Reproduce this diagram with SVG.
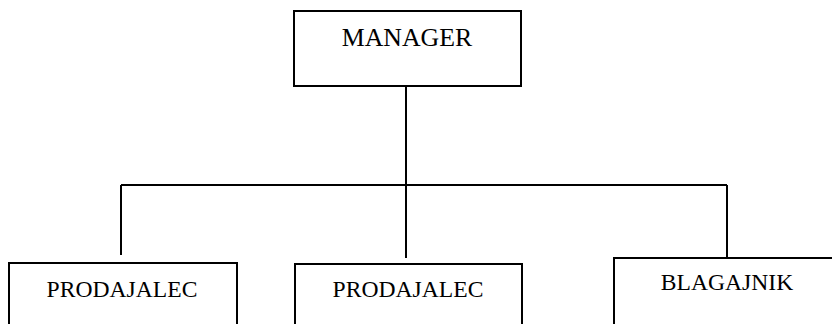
<svg xmlns="http://www.w3.org/2000/svg" width="832" height="324" viewBox="0 0 832 324">
<style>
.box{fill:#fff;stroke:#000;stroke-width:2}
.lbl{font-family:"Liberation Serif","Times New Roman",serif;font-size:23.6px;fill:#000;text-anchor:middle}
.big{font-size:25.8px}
.conn{fill:none;stroke:#000;stroke-width:2}
</style>
<rect width="832" height="324" fill="#fff"/>
<g id="connectors">
<path class="conn" d="M406,86 V185"/>
<path class="conn" d="M121,185 H727"/>
<path class="conn" d="M121,185 V255"/>
<path class="conn" d="M406,185 V258"/>
<path class="conn" d="M727,185 V258"/>
</g>
<g id="manager">
<rect class="box" x="294" y="11" width="227" height="75"/>
<text class="lbl big" x="407" y="46">MANAGER</text>
</g>
<g id="prodajalec1">
<rect class="box" x="9" y="263" width="228" height="80"/>
<text class="lbl" x="122" y="296.5">PRODAJALEC</text>
</g>
<g id="prodajalec2">
<rect class="box" x="295" y="264" width="227" height="80"/>
<text class="lbl" x="408" y="297">PRODAJALEC</text>
</g>
<g id="blagajnik">
<rect class="box" x="614" y="258" width="240" height="80"/>
<text class="lbl" x="727" y="290">BLAGAJNIK</text>
</g>
</svg>
